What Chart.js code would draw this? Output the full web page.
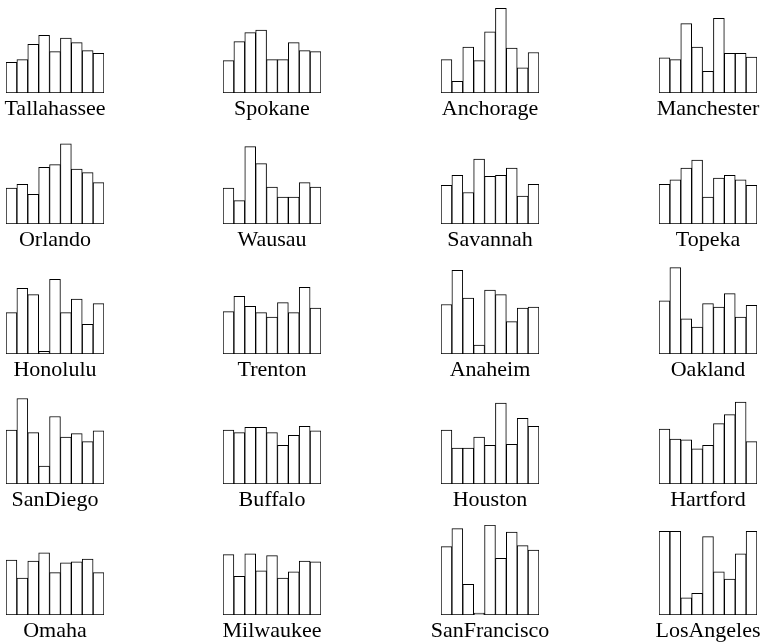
<!DOCTYPE html>
<html>
<head>
<meta charset="utf-8">
<script src="https://cdn.jsdelivr.net/npm/chart.js@4"></script>
<style>
  html, body { margin: 0; padding: 0; background: #fff; overflow: hidden; width: 764px; height: 642px; }
  canvas { position: absolute; }
</style>
</head>
<body>
<script>
// nine rating variables, one bar each
const variables = ["Climate", "Housing", "Health", "Crime", "Transp", "Educ", "Arts", "Recreat", "Econ"];

const cities = [
  "Tallahassee", "Spokane", "Anchorage", "Manchester",
  "Orlando", "Wausau", "Savannah", "Topeka",
  "Honolulu", "Trenton", "Anaheim", "Oakland",
  "SanDiego", "Buffalo", "Houston", "Hartford",
  "Omaha", "Milwaukee", "SanFrancisco", "LosAngeles"
];

// scaled scores (0-100), one row per city, in the order of `variables`
const scores = [
  [34, 37, 54, 64, 46, 61, 56, 47, 44],
  [36, 57, 67, 70, 37, 37, 56, 47, 46],
  [37, 13, 51, 36, 68, 94, 50, 28, 45],
  [39, 37, 77, 51, 24, 83, 44, 44, 40],
  [40, 44, 33, 63, 66, 89, 61, 57, 46],
  [40, 26, 86, 67, 41, 30, 30, 46, 41],
  [43, 54, 35, 72, 53, 54, 62, 31, 44],
  [44, 49, 62, 71, 30, 51, 54, 49, 43],
  [46, 73, 66, 3, 83, 46, 61, 33, 56],
  [47, 64, 53, 46, 41, 57, 46, 74, 51],
  [55, 93, 62, 10, 71, 66, 36, 51, 52],
  [59, 96, 39, 30, 56, 52, 67, 41, 54],
  [60, 95, 57, 20, 75, 52, 56, 47, 59],
  [60, 57, 63, 63, 57, 43, 54, 64, 59],
  [60, 40, 40, 52, 43, 90, 44, 73, 64],
  [61, 50, 49, 39, 43, 67, 77, 91, 47],
  [61, 41, 60, 69, 47, 58, 59, 62, 47],
  [67, 43, 68, 49, 66, 41, 48, 60, 59],
  [76, 96, 34, 2, 100, 63, 92, 77, 72],
  [93, 93, 19, 24, 87, 48, 40, 68, 93]
];

const colLeft = [6, 223, 441, 659];
const rowTop = [3, 134, 264, 394, 525];
const padSide = 70;
const plotW = 98;
const plotH = 90;
const labelH = 30;

// writes the city name centred under the bars
const cityLabel = {
  id: "cityLabel",
  afterDraw(chart, args, opts) {
    const { ctx, chartArea } = chart;
    ctx.save();
    ctx.font = "normal 22px Liberation Serif";
    ctx.fillStyle = "#000";
    ctx.textAlign = "center";
    ctx.textBaseline = "alphabetic";
    ctx.fillText(opts.text, (chartArea.left + chartArea.right) / 2, chartArea.bottom + 22);
    ctx.restore();
  }
};

cities.forEach((city, i) => {
  const c = document.createElement("canvas");
  c.width = plotW + 2 * padSide;
  c.height = plotH + labelH;
  c.style.left = (colLeft[i % 4] - padSide) + "px";
  c.style.top = rowTop[Math.floor(i / 4)] + "px";
  document.body.appendChild(c);

  new Chart(c, {
    type: "bar",
    data: {
      labels: variables,
      datasets: [{
        data: scores[i],
        backgroundColor: "#ffffff",
        borderColor: "#000000",
        borderWidth: 1,
        borderSkipped: false,
        categoryPercentage: 1,
        barPercentage: 1
      }]
    },
    options: {
      responsive: false,
      animation: false,
      layout: { padding: { left: padSide, right: padSide, top: 0, bottom: labelH } },
      scales: {
        x: { display: false },
        y: { display: false, min: 0, max: 100 }
      },
      plugins: {
        legend: { display: false },
        tooltip: { enabled: false },
        cityLabel: { text: city }
      }
    },
    plugins: [cityLabel]
  });
});
</script>
</body>
</html>
